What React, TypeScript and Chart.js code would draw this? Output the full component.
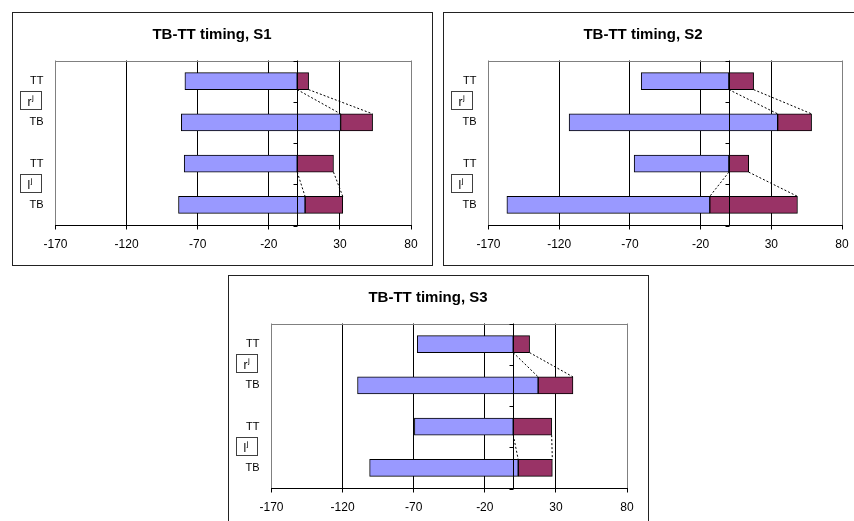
import React, { useEffect, useRef } from 'react';
import { Chart, registerables } from 'chart.js';

Chart.register(...registerables);

const FONT = "'Liberation Sans', Arial, sans-serif";

const categories = ['TT', 'TB', 'TT', 'TB'];
const groupLetters = ['r', 'l'];
const groupSuperscript = 'j';
const xTicks = [-170, -120, -70, -20, 30, 80];

const s1Start = [-79, -81.5, -79.5, -83.5];
const s1Mid = [0, 30.5, 0, 5.5];
const s1End = [8, 53, 25.5, 32];

const s2Start = [-62, -113, -67, -157];
const s2Mid = [0, 34.5, 0, -13.5];
const s2End = [17.5, 58.5, 14, 48.5];

const s3Start = [-67.5, -109.5, -69.5, -101];
const s3Mid = [0, 17.5, 0, 3.5];
const s3End = [11.5, 42, 27, 27.5];

const BLUE = '#9999FF';
const MAROON = '#993366';

const CW = 419;
const CH = 252;

interface PanelProps {
  title: string;
  start: number[];
  mid: number[];
  end: number[];
  left: number;
  top: number;
  plotLeft: number;
}

function Panel({ title, start, mid, end, left, top, plotLeft }: PanelProps) {
  const ref = useRef<HTMLCanvasElement | null>(null);

  useEffect(() => {
    if (!ref.current) return;

    const extras = {
      id: 'extras',
      beforeDatasetsDraw(chart: any) {
        const { ctx, chartArea: a } = chart;
        ctx.save();
        ctx.strokeStyle = '#808080';
        ctx.lineWidth = 1;
        const ty = Math.round(a.top) + 0.5;
        ctx.beginPath();
        ctx.moveTo(a.left, ty);
        ctx.lineTo(a.right, ty);
        ctx.stroke();
        ctx.restore();
      },
      afterDatasetsDraw(chart: any) {
        const { ctx, chartArea: a, scales } = chart;
        const xs = scales.x;
        const ys = scales.y;
        const meta = chart.getDatasetMeta(1);
        ctx.save();
        // series lines
        ctx.strokeStyle = '#000';
        ctx.lineWidth = 1;
        ctx.setLineDash([2, 2]);
        const pairs = [[0, 1], [2, 3]];
        for (const [i, j] of pairs) {
          const e1 = meta.data[i];
          const e2 = meta.data[j];
          const yb = e1.y + e1.height / 2;
          const yt = e2.y - e2.height / 2;
          for (const arr of [mid, end]) {
            ctx.beginPath();
            ctx.moveTo(xs.getPixelForValue(arr[i]), yb);
            ctx.lineTo(xs.getPixelForValue(arr[j]), yt);
            ctx.stroke();
          }
        }
        ctx.setLineDash([]);
        // category axis at value 0
        const x0 = Math.round(xs.getPixelForValue(0)) + 0.5;
        ctx.beginPath();
        ctx.moveTo(x0, a.top);
        ctx.lineTo(x0, a.bottom);
        ctx.stroke();
        for (let k = 0; k <= categories.length; k++) {
          const yy = Math.round(ys.getPixelForValue(k - 0.5)) + 0.5;
          ctx.beginPath();
          ctx.moveTo(x0 - 4, yy);
          ctx.lineTo(x0, yy);
          ctx.stroke();
        }
        // group boxes
        groupLetters.forEach((letter, g) => {
          const cy = ys.getPixelForValue(g * 2 + 0.5) - 1.5;
          const bx = 7.5;
          const bw = 21;
          const bh = 18;
          const by = Math.round(cy - bh / 2) + 0.5;
          ctx.strokeStyle = '#404040';
          ctx.lineWidth = 1;
          ctx.strokeRect(bx, by, bw, bh);
          ctx.fillStyle = '#000';
          ctx.textAlign = 'left';
          ctx.textBaseline = 'alphabetic';
          ctx.font = `12px ${FONT}`;
          const lw = ctx.measureText(letter).width;
          const tx = bx + 7;
          ctx.fillText(letter, tx, by + 14);
          ctx.font = `8px ${FONT}`;
          ctx.fillText(groupSuperscript, tx + lw + 0.5, by + 8);
        });
        ctx.restore();
      },
    };

    const chart = new Chart(ref.current, {
      type: 'bar',
      data: {
        labels: categories,
        datasets: [
          {
            data: start.map((s, i) => [s, mid[i]]),
            backgroundColor: BLUE,
            borderColor: '#000',
            borderWidth: 1,
            borderSkipped: false,
            barThickness: 17,
            grouped: false,
          } as any,
          {
            data: mid.map((m, i) => [m, end[i]]),
            backgroundColor: MAROON,
            borderColor: '#000',
            borderWidth: 1,
            borderSkipped: false,
            barThickness: 17,
            grouped: false,
          } as any,
        ],
      },
      options: {
        indexAxis: 'y',
        responsive: false,
        animation: false,
        devicePixelRatio: 1,
        layout: { padding: { left: 0, right: CW - 398, top: 0, bottom: 0 } },
        plugins: {
          legend: { display: false },
          tooltip: { enabled: false },
          title: {
            display: true,
            text: title,
            color: '#000',
            font: { family: FONT, size: 15, weight: 'bold' },
            padding: { top: 13, bottom: 16.5 },
          },
        },
        scales: {
          x: {
            type: 'linear',
            min: -170,
            max: 80,
            afterBuildTicks: (s: any) => {
              s.ticks = xTicks.map((v) => ({ value: v }));
            },
            afterFit: (s: any) => {
              s.height = 39.5;
            },
            grid: {
              color: (c: any) =>
                c.tick && (c.tick.value === -170 || c.tick.value === 80) ? '#808080' : '#000',
              lineWidth: 1,
              drawTicks: true,
              tickLength: 4,
              tickColor: '#000',
            },
            border: { display: true, color: '#000', width: 1 },
            ticks: {
              color: '#000',
              font: { family: FONT, size: 12 },
              padding: 8,
              maxRotation: 0,
              autoSkip: false,
            },
          },
          y: {
            type: 'category',
            offset: true,
            afterFit: (s: any) => {
              s.width = plotLeft;
            },
            grid: { display: false },
            border: { display: false },
            ticks: {
              color: '#000',
              font: { family: FONT, size: 11 },
              padding: 4,
            },
          },
        },
      } as any,
      plugins: [extras],
    });
    return () => chart.destroy();
  }, [title, start, mid, end, plotLeft]);

  return (
    <div
      style={{
        position: 'absolute',
        left,
        top,
        width: CW + 2,
        height: CH + 2,
        border: '1px solid #222',
        boxSizing: 'border-box',
        background: '#fff',
      }}
    >
      <canvas ref={ref} width={CW} height={CH} style={{ display: 'block', width: CW, height: CH }} />
    </div>
  );
}

export default function App() {
  return (
    <div
      style={{
        position: 'absolute',
        left: 0,
        top: 0,
        width: 854,
        height: 521,
        overflow: 'hidden',
        background: '#fff',
      }}
    >
      <Panel title="TB-TT timing, S1" start={s1Start} mid={s1Mid} end={s1End} left={12} top={12} plotLeft={42.5} />
      <Panel title="TB-TT timing, S2" start={s2Start} mid={s2Mid} end={s2End} left={443} top={12} plotLeft={44.5} />
      <Panel title="TB-TT timing, S3" start={s3Start} mid={s3Mid} end={s3End} left={228} top={275} plotLeft={42.5} />
    </div>
  );
}
